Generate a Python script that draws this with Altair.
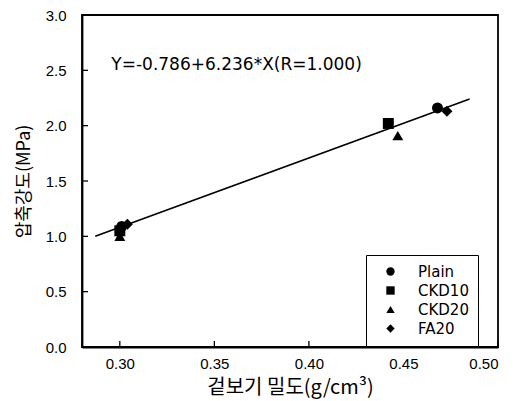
import altair as alt
import pandas as pd

# --- data ---
series = ["Plain", "Plain", "CKD10", "CKD10", "CKD20", "CKD20", "FA20", "FA20"]
density = [0.301, 0.468, 0.300, 0.442, 0.300, 0.447, 0.304, 0.473]
strength = [1.09, 2.16, 1.05, 2.02, 1.00, 1.91, 1.11, 2.13]

legend_order = ["Plain", "CKD10", "CKD20", "FA20"]
legend_shapes = ["circle", "square", "triangle-up", "diamond"]

fit_x = [0.287, 0.485]
fit_y = [1.00, 2.24]

eq_text = ["Y=-0.786+6.236*X(R=1.000)"]
eq_x = [0.2955]
eq_y = [2.55]

x_ticks = [0.30, 0.35, 0.40, 0.45, 0.50]
y_ticks = [0.0, 0.5, 1.0, 1.5, 2.0, 2.5, 3.0]

W, H = 416, 332

pts = pd.DataFrame({"series": series, "x": density, "y": strength})
fit = pd.DataFrame({"x": fit_x, "y": fit_y})
eq = pd.DataFrame({"t": eq_text, "x": eq_x, "y": eq_y})
xt = pd.DataFrame({"v": x_ticks})
yt = pd.DataFrame({"v": y_ticks})

xscale = alt.Scale(domain=[0.28, 0.50], nice=False, zero=False)
yscale = alt.Scale(domain=[0.0, 3.0], nice=False, zero=False)

xaxis = alt.Axis(values=x_ticks, format=".2f", title="겉보기 밀도(g/cm³)",
                 titleFont="Noto Sans CJK KR", titleFontSize=20, titleFontWeight="normal",
                 titlePadding=6, labelPadding=9, ticks=False, grid=False)
yaxis = alt.Axis(values=y_ticks, format=".1f", title="압축강도(MPa)",
                 titleFont="Noto Sans CJK KR", titleFontSize=18, titleFontWeight="normal",
                 titlePadding=12, labelPadding=16, ticks=False, grid=False)

line = alt.Chart(fit).mark_line(color="black", strokeWidth=1.6).encode(
    x=alt.X("x:Q", scale=xscale, axis=xaxis),
    y=alt.Y("y:Q", scale=yscale, axis=yaxis),
)

points = alt.Chart(pts).mark_point(filled=True, color="black", opacity=1, size=120).encode(
    x=alt.X("x:Q", scale=xscale),
    y=alt.Y("y:Q", scale=yscale),
    shape=alt.Shape("series:N",
                    scale=alt.Scale(domain=legend_order, range=legend_shapes),
                    legend=alt.Legend(title=None, orient="none", legendX=284, legendY=240,
                                      labelFont="DejaVu Sans", labelFontSize=15,
                                      labelColor="black", symbolSize=70,
                                      symbolFillColor="black", symbolStrokeColor="black",
                                      symbolType="circle", rowPadding=3, labelOffset=20,
                                      strokeColor="black", padding=9, fillColor="white",
                                      symbolOffset=8)),
)

text = alt.Chart(eq).mark_text(align="left", baseline="middle", font="DejaVu Sans",
                               fontSize=17, color="black").encode(
    x=alt.X("x:Q", scale=xscale), y=alt.Y("y:Q", scale=yscale), text="t:N")

ytick = alt.Chart(yt).mark_rule(color="black", strokeWidth=1.3).encode(
    y=alt.Y("v:Q", scale=yscale), x=alt.value(0), x2=alt.value(6))
xtick = alt.Chart(xt).mark_rule(color="black", strokeWidth=1.3).encode(
    x=alt.X("v:Q", scale=xscale), y=alt.value(H), y2=alt.value(H - 6))

chart = alt.layer(line, points, text, ytick, xtick).properties(
    width=W, height=H,
    autosize=alt.AutoSizeParams(type="none"),
    padding={"left": 74, "top": 7, "right": 10, "bottom": 54},
).configure_view(stroke="black", strokeWidth=1.8).configure_axis(
    domainColor="black", domainWidth=1.8, labelColor="black", titleColor="black",
    labelFont="Liberation Sans", labelFontSize=15,
)

chart.save("out.html", embed_options={"renderer": "svg", "actions": False})
